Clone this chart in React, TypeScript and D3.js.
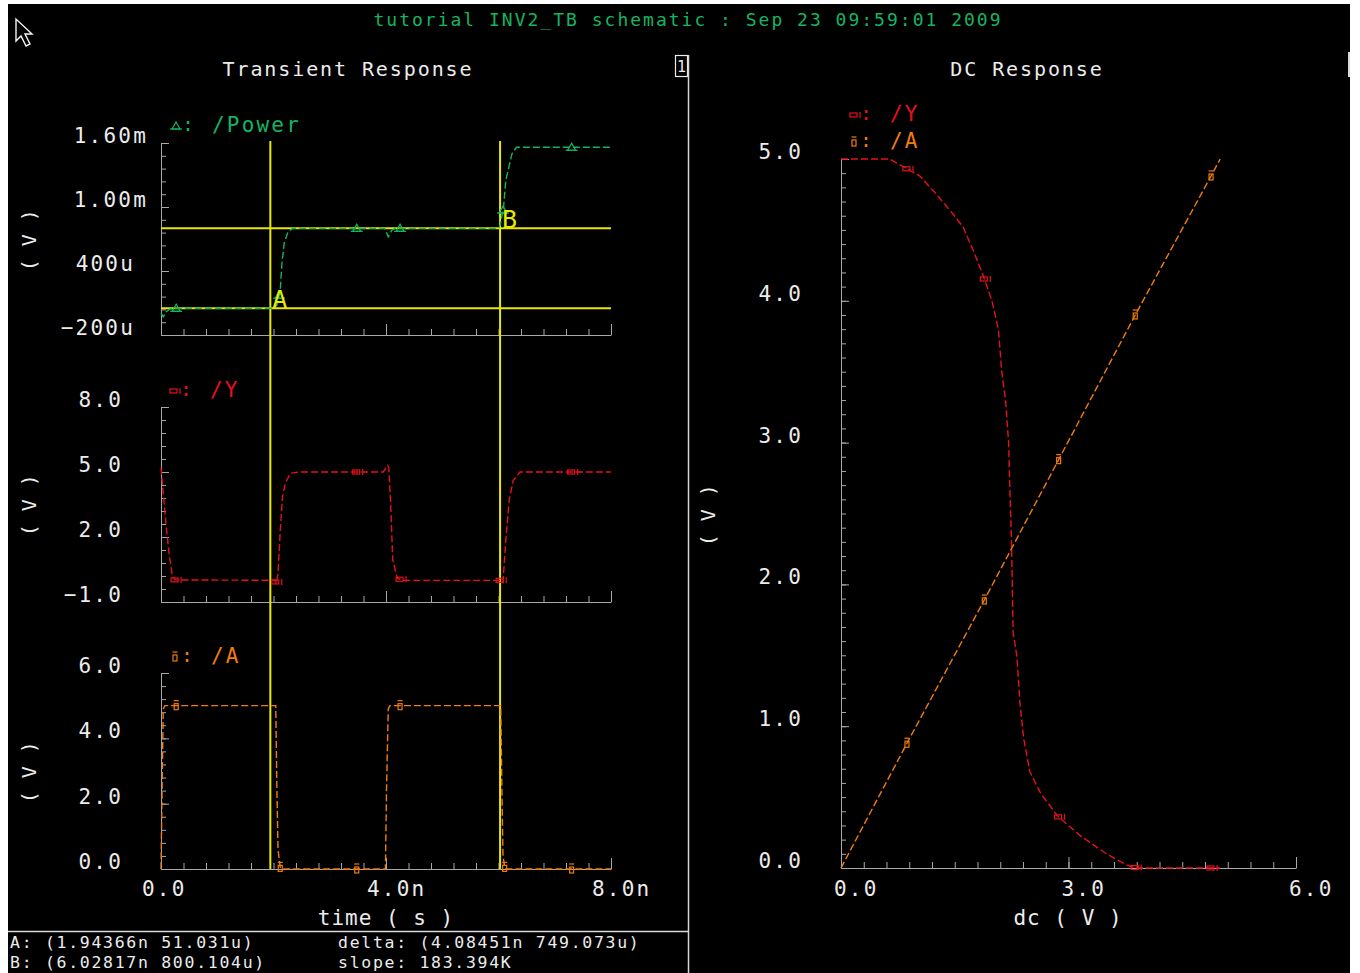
import * as d3 from "d3";
import React, { useEffect, useRef } from "react";

// Transient traces: [time (ns), value]
const powerTrace = [
  [0, 0.006], [0.04, -0.03], [0.1, 0.02], [0.16, 0.045], [0.28, 0.051], [2.0, 0.051],
  [2.06, 0.08], [2.12, 0.22], [2.15, 0.47], [2.19, 0.66], [2.26, 0.77], [2.34, 0.8],
  [3.98, 0.8], [4.04, 0.72], [4.1, 0.78], [4.16, 0.8], [6.0, 0.8], [6.03, 0.83],
  [6.09, 1.0], [6.13, 1.25], [6.2, 1.41], [6.24, 1.5], [6.32, 1.56], [8.0, 1.56],
];
const yTrace = [
  [0, 5.2], [0.03, 4.3], [0.1, 2.3], [0.15, 1.1], [0.2, 0.25], [0.25, 0.02],
  [2.03, 0.0], [2.05, -0.15], [2.08, 0.3], [2.12, 2.3], [2.16, 3.86], [2.21, 4.48], [2.3, 4.94], [2.45, 5.0],
  [3.95, 5.0], [4.03, 5.3], [4.05, 5.2], [4.08, 3.7], [4.12, 0.94], [4.2, 0.1], [4.3, 0.0],
  [6.03, 0.0], [6.08, -0.1], [6.13, 1.86], [6.19, 3.7], [6.26, 4.6], [6.38, 5.0], [8.0, 5.0],
];
const aTrace = [
  [0, 0], [0.02, 2.5], [0.04, 4.9], [0.07, 5.0], [2.04, 5.0], [2.06, 2.5], [2.08, 0.6], [2.12, 0.05], [2.15, 0],
  [3.99, 0], [4.01, 2.5], [4.04, 4.9], [4.07, 5.0], [6.04, 5.0], [6.06, 2.5], [6.08, 0.4], [6.11, 0.05], [6.14, 0], [8.0, 0],
];
const powerMarks = [0.27, 2.1, 3.48, 4.25, 6.08, 7.3];
const yMarks = [0.25, 2.04, 3.48, 4.25, 6.03, 7.3];
const aMarks = [0.27, 2.12, 3.48, 4.25, 6.11, 7.3];

// DC sweep: [dc (V), value (V)]
const dcYTrace = [
  [0, 5.0], [0.64, 5.0], [0.84, 4.94], [1.04, 4.88], [1.26, 4.75], [1.48, 4.61], [1.61, 4.52], [1.74, 4.36],
  [1.86, 4.2], [1.99, 4.0], [2.075, 3.8], [2.12, 3.5], [2.17, 3.3], [2.21, 3.0], [2.23, 2.62], [2.25, 2.27],
  [2.27, 1.66], [2.32, 1.49], [2.36, 1.16], [2.41, 0.91], [2.49, 0.68], [2.63, 0.53], [2.85, 0.37],
  [3.15, 0.23], [3.5, 0.1], [3.77, 0.02], [3.9, 0.0], [5.0, 0.0],
];
const dcATrace = [[0, 0], [0.87, 0.88], [1.89, 1.89], [2.89, 2.9], [3.88, 3.9], [4.9, 4.9], [5.0, 5.0]];
const dcMarks = [0.87, 1.89, 2.87, 3.88, 4.88];

// Tick labels
const timeTicks = [0, 4, 8];
const timeLabels = ["0.0", "4.0n", "8.0n"];
const powerTicks = [-0.2, 0.4, 1.0, 1.6];
const powerLabels = ["−200u", "400u", "1.00m", "1.60m"];
const yTicks = [-1, 2, 5, 8];
const yLabels = ["−1.0", "2.0", "5.0", "8.0"];
const aTicks = [0, 2, 4, 6];
const aLabels = ["0.0", "2.0", "4.0", "6.0"];
const dcXTicks = [0, 3, 6];
const dcXLabels = ["0.0", "3.0", "6.0"];
const dcYTicks = [0, 1, 2, 3, 4, 5];
const dcYLabels = ["0.0", "1.0", "2.0", "3.0", "4.0", "5.0"];

// Cursors: [time (ns), power (m)]
const cursorA = [1.94366, 0.051031];
const cursorB = [6.02817, 0.800104];
const statusLeft = ["A: (1.94366n 51.031u)", "B: (6.02817n 800.104u)"];
const statusRight = ["delta: (4.08451n 749.073u)", "slope: 183.394K"];

const FONT = "'DejaVu Sans Mono', monospace";
const GREEN = "#14b562";
const RED = "#e8101c";
const ORANGE = "#f07c0c";
const YELLOW = "#e8e800";
const AXIS = "#a8a8a8";
const TEXT = "#ececec";

const App = () => {
  const svgRef = useRef(null);

  useEffect(() => {
    const width = 1360;
    const height = 973;
    const svg = d3.select(svgRef.current).attr("width", width).attr("height", height);
    svg.selectAll("*").remove();

    // background: white frame around the black window
    svg.append("rect").attr("width", width).attr("height", height).attr("fill", "#ffffff");
    svg.append("rect").attr("x", 8).attr("y", 4).attr("width", 1342).attr("height", height - 4).attr("fill", "#000000");

    const label = (str, x, y, size, fill, anchor = "start", ls = 2, transform = null) => {
      const t = svg
        .append("text")
        .attr("font-family", FONT)
        .attr("font-size", size)
        .attr("letter-spacing", ls)
        .attr("fill", fill)
        .attr("text-anchor", anchor)
        .text(str);
      if (transform) t.attr("transform", transform);
      else t.attr("x", x).attr("y", y);
      return t;
    };

    const steps = (a, b, step) =>
      d3.range(0, Math.round((b - a) / step) + 1).map((i) => +(a + i * step).toFixed(4));

    // scales
    const tx = d3.scaleLinear().domain([0, 8]).range([161, 611]);
    const pY = d3.scaleLinear().domain([-0.2, 1.6]).range([335, 143]);
    const yY = d3.scaleLinear().domain([-1, 8]).range([602, 407]);
    const aY = d3.scaleLinear().domain([0, 6]).range([869, 673]);
    const dX = d3.scaleLinear().domain([0, 6]).range([841, 1296]);
    const dY = d3.scaleLinear().domain([0, 5]).range([868, 159]);

    // axis helpers (ticks point inwards)
    const yAxis = (scale, x, minors, majors) => {
      svg.append("g").attr("transform", `translate(${x},0)`).attr("color", AXIS)
        .call(d3.axisRight(scale).tickValues(minors).tickSize(5).tickSizeOuter(0).tickFormat(() => ""));
      svg.append("g").attr("transform", `translate(${x},0)`).attr("color", AXIS)
        .call(d3.axisRight(scale).tickValues(majors).tickSize(8).tickSizeOuter(0).tickFormat(() => ""))
        .call((g) => g.select(".domain").remove());
    };
    const xAxis = (scale, y, minors, majors) => {
      svg.append("g").attr("transform", `translate(0,${y})`).attr("color", AXIS)
        .call(d3.axisTop(scale).tickValues(minors).tickSize(6).tickSizeOuter(0).tickFormat(() => ""));
      svg.append("g").attr("transform", `translate(0,${y})`).attr("color", AXIS)
        .call(d3.axisTop(scale).tickValues(majors).tickSize(11).tickSizeOuter(0).tickFormat(() => ""))
        .call((g) => g.select(".domain").remove());
    };

    yAxis(pY, 161, steps(-0.2, 1.6, 0.12), powerTicks);
    yAxis(yY, 161, steps(-1, 8, 0.6), yTicks);
    yAxis(aY, 161, steps(0, 6, 0.4), aTicks);
    yAxis(dY, 841, steps(0, 5, 0.1), dcYTicks);
    xAxis(tx, 335, steps(0, 8, 0.4), timeTicks);
    xAxis(tx, 602, steps(0, 8, 0.4), timeTicks);
    xAxis(tx, 869, steps(0, 8, 0.4), timeTicks);
    xAxis(dX, 868, steps(0, 6, 0.3), dcXTicks);

    // tick labels
    powerTicks.forEach((v, i) => {
      const s = powerLabels[i];
      label(s, s.endsWith("u") ? 135 : 148, pY(v), 21, TEXT, "end", 2.2);
    });
    yTicks.forEach((v, i) => label(yLabels[i], 123, yY(v), 21, TEXT, "end", 2.2));
    aTicks.forEach((v, i) => label(aLabels[i], 123, aY(v), 21, TEXT, "end", 2.2));
    dcYTicks.forEach((v, i) => label(dcYLabels[i], 803, dY(v), 21, TEXT, "end", 2.2));
    timeTicks.forEach((v, i) => label(timeLabels[i], tx(v) - 19, 896, 21, TEXT, "start", 2.2));
    dcXTicks.forEach((v, i) => label(dcXLabels[i], dX(v) - 7, 896, 21, TEXT, "start", 2.2));

    // axis titles
    label("time ( s )", 386, 925, 21, TEXT, "middle", 1);
    label("dc ( V )", 1068, 925, 21, TEXT, "middle", 1);
    [[36, 240], [36, 505], [36, 772], [715, 515]].forEach(([x, y]) =>
      label("( V )", 0, 0, 20, TEXT, "middle", 0.5, `translate(${x},${y}) rotate(-90)`)
    );

    // titles
    label("tutorial INV2_TB schematic : Sep 23 09:59:01 2009", 688, 26, 18, GREEN, "middle", 2);
    label("Transient Response", 348, 76, 20, TEXT, "middle", 1.9);
    label("DC Response", 1027, 76, 20, TEXT, "middle", 1.9);

    // window frame pieces
    svg.append("rect").attr("x", 675.5).attr("y", 55.5).attr("width", 12).attr("height", 21)
      .attr("fill", "none").attr("stroke", TEXT).attr("stroke-width", 1.2);
    label("1", 681.5, 72, 15, TEXT, "middle", 0);
    svg.append("line").attr("x1", 688.5).attr("x2", 688.5).attr("y1", 55).attr("y2", height)
      .attr("stroke", "#d8d8d8").attr("stroke-width", 1.5);
    svg.append("line").attr("x1", 8).attr("x2", 688).attr("y1", 931.5).attr("y2", 931.5)
      .attr("stroke", "#d8d8d8").attr("stroke-width", 1.5);
    svg.append("line").attr("x1", 1349).attr("x2", 1349).attr("y1", 52).attr("y2", 77)
      .attr("stroke", "#d8d8d8").attr("stroke-width", 2);

    // mouse pointer
    svg.append("path").attr("d", "M16,19 L16,41 L21,36 L26,46 L30,44 L25,34 L32,34 Z")
      .attr("fill", "#000").attr("stroke", "#f4f4f4").attr("stroke-width", 1.4);

    // markers
    const marker = (kind, cx, cy, color) => {
      const g = svg.append("g").attr("transform", `translate(${cx},${cy})`)
        .attr("fill", "none").attr("stroke", color).attr("stroke-width", 1.2);
      if (kind === "tri") {
        g.append("path").attr("d", "M-4,3 L0,-4 L4,3 Z");
        g.append("line").attr("x1", -6).attr("x2", 6).attr("y1", 3).attr("y2", 3);
      } else if (kind === "rectH") {
        g.append("rect").attr("x", -4).attr("y", -2).attr("width", 7).attr("height", 4);
        g.append("line").attr("x1", 6).attr("x2", 6).attr("y1", -3).attr("y2", 3);
      } else {
        g.append("rect").attr("x", -2).attr("y", -2).attr("width", 4).attr("height", 6);
        g.append("line").attr("x1", -2.5).attr("x2", 2.5).attr("y1", -5).attr("y2", -5);
      }
    };
    const valueAt = (trace, t) => {
      const i = d3.bisector((d) => d[0]).left(trace, t);
      if (i <= 0) return trace[0][1];
      if (i >= trace.length) return trace[trace.length - 1][1];
      const [t0, v0] = trace[i - 1];
      const [t1, v1] = trace[i];
      return v0 + ((v1 - v0) * (t - t0)) / (t1 - t0);
    };

    // cursors (behind the traces)
    const cur = svg.append("g").attr("stroke", YELLOW).attr("stroke-width", 2);
    [cursorA, cursorB].forEach(([t, v]) => {
      cur.append("line").attr("x1", tx(t)).attr("x2", tx(t)).attr("y1", 141).attr("y2", aY(0));
      cur.append("line").attr("x1", tx(0)).attr("x2", tx(8)).attr("y1", pY(v)).attr("y2", pY(v));
    });

    // traces
    const drawTrace = (trace, xs, ys, color, marks, kind) => {
      const line = d3.line().x((d) => xs(d[0])).y((d) => ys(d[1]));
      svg.append("path").datum(trace).attr("d", line).attr("fill", "none")
        .attr("stroke", color).attr("stroke-width", 1.4).attr("stroke-dasharray", "7,3");
      marks.forEach((t) => marker(kind, xs(t), ys(valueAt(trace, t)), color));
    };
    drawTrace(powerTrace, tx, pY, GREEN, powerMarks, "tri");
    drawTrace(yTrace, tx, yY, RED, yMarks, "rectH");
    drawTrace(aTrace, tx, aY, ORANGE, aMarks, "rectV");
    drawTrace(dcYTrace, dX, dY, RED, dcMarks, "rectH");
    drawTrace(dcATrace, dX, dY, ORANGE, dcMarks, "rectV");

    // cursor letters
    label("A", tx(cursorA[0]) + 2, pY(cursorA[1]), 25, YELLOW, "start", 0);
    label("B", tx(cursorB[0]) + 2, pY(cursorB[1]), 25, YELLOW, "start", 0);

    // legends
    const legend = (kind, x, y, color, name) => {
      marker(kind, x, y, color);
      label(":", x + 12, y + 5, 19, color, "middle", 0);
      label(name, x + 36, y + 6, 21, color, "start", 2.2);
    };
    legend("tri", 176, 126, GREEN, "/Power");
    legend("rectH", 174, 391, RED, "/Y");
    legend("rectV", 175, 657, ORANGE, "/A");
    legend("rectH", 854, 115, RED, "/Y");
    legend("rectV", 854, 142, ORANGE, "/A");

    // status line
    statusLeft.forEach((s, i) => label(s, 10, 948 + i * 20, 16.5, TEXT, "start", 1.7));
    statusRight.forEach((s, i) => label(s, 338, 948 + i * 20, 16.5, TEXT, "start", 1.7));
  }, []);

  return <svg ref={svgRef} style={{ position: "absolute", left: 0, top: 0, display: "block" }}></svg>;
};

export default App;
